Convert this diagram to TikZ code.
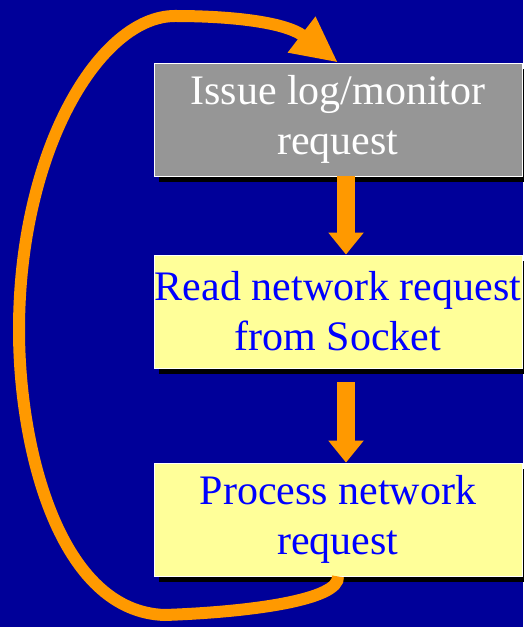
\documentclass[tikz,border=0pt]{standalone}
\usepackage{fontspec}
\setmainfont{Liberation Serif}
\usetikzlibrary{arrows.meta,shadows}

\definecolor{slideblue}{HTML}{000099}
\definecolor{boxgray}{HTML}{969696}
\definecolor{boxyellow}{HTML}{FFFF99}
\definecolor{arroworange}{HTML}{FF9900}

\tikzset{
    stepbox/.style={rectangle,draw=white,line width=0.8pt,minimum width=368pt,minimum height=113pt,
        inner sep=0pt,align=center,
        font=\fontsize{42}{50}\selectfont,
        drop shadow={shadow xshift=5pt,shadow yshift=-6pt,fill=black,opacity=1}},
    flow/.style={draw=arroworange,line width=18pt,-{Triangle[length=22pt,width=34pt]}},
    loop/.style={draw=arroworange,line width=12pt,-{Triangle[length=46pt,width=42pt]}}
}

\begin{document}
\begin{tikzpicture}[x=1pt,y=1pt]
    \fill [slideblue] (0,0) rectangle (523,627);
    \useasboundingbox (0,0) rectangle (523,627);
    \node (issue) [stepbox,fill=boxgray,text=white] at (338,507.5) {Issue log/monitor\\request};
    \node (readreq) [stepbox,fill=boxyellow,text=blue] at (338,315.5) {Read network request\\from Socket};
    \node (process) [stepbox,fill=boxyellow,text=blue] at (338,107.5) {Process network\\request};
    \draw [flow] ([xshift=8pt]issue.south) -- ([xshift=8pt]readreq.north);
    \draw [flow,shorten <=14pt] ([xshift=8pt]readreq.south) -- ([xshift=8pt]process.north);
    % back to the start
    \draw [loop] (process.south) .. controls (340,27) and (250,15) .. (165,12)
        .. controls (60,15) and (19,177) .. (19,297)
        .. controls (19,477) and (100,611) .. (175,611)
        .. controls (225,611) and (284,606) .. (issue.north);
\end{tikzpicture}
\end{document}
